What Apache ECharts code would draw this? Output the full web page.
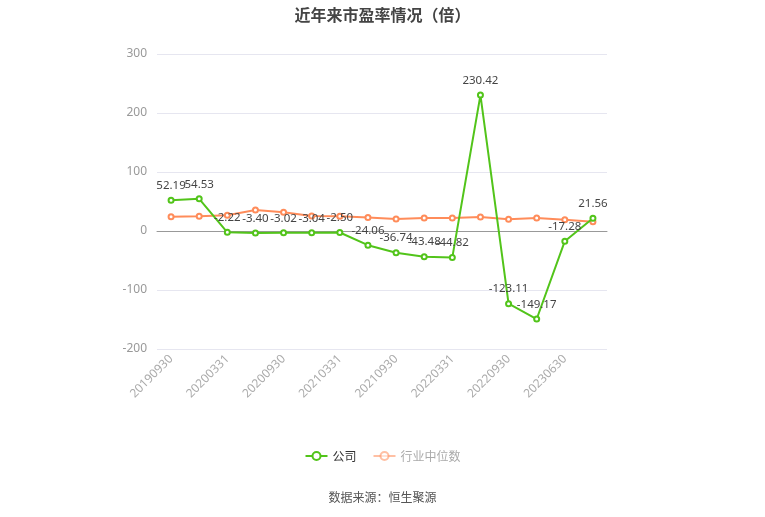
<!DOCTYPE html>
<html><head><meta charset="utf-8">
<script src="https://cdn.jsdelivr.net/npm/echarts@6/dist/echarts.min.js"></script>
<style>html,body{margin:0;padding:0;background:#fff}#c{width:765px;height:517px}</style>
</head><body><div id="c"></div>
<script>
const categories = ['20190930','20191231','20200331','20200630','20200930','20201231','20210331','20210630','20210930','20211231','20220331','20220630','20220930','20221231','20230630','20230930'];
const companyPE = [52.19,54.53,-2.22,-3.40,-3.02,-3.04,-2.50,-24.06,-36.74,-43.48,-44.82,230.42,-123.11,-149.17,-17.28,21.56];
const industryPE = [24.2,24.8,26.6,35.6,31.6,25.4,25.0,23.0,20.3,22.0,22.0,23.7,19.8,22.0,19.0,15.8];
const yTicks = {min:-200,max:300,interval:100};

const chart = echarts.init(document.getElementById('c'));
chart.setOption({
  animation:false,
  title:{text:'近年来市盈率情况（倍）',left:'center',top:2,textStyle:{fontSize:16,fontWeight:'bold',color:'#444',fontFamily:'Noto Sans CJK SC'}},
  grid:{left:157,right:158,top:54,bottom:168},
  legend:{bottom:50,left:'center',itemWidth:22,itemHeight:10,itemGap:16,textStyle:{fontSize:12,color:'#333',fontFamily:'Noto Sans CJK SC'},
    data:[{name:'公司'},{name:'行业中位数',textStyle:{color:'#aaa'},itemStyle:{opacity:0.55},lineStyle:{opacity:0.55}}]},
  graphic:[{type:'text',left:'center',top:491,style:{text:'数据来源：恒生聚源',fontSize:12,fill:'#555',fontFamily:'Noto Sans CJK SC'}}],
  xAxis:{type:'category',data:categories,boundaryGap:true,
    axisLine:{lineStyle:{color:'#999'}},
    axisTick:{alignWithLabel:true,interval:1,lineStyle:{color:'#999'}},
    axisLabel:{rotate:45,interval:1,color:'#aaa',fontSize:12,fontFamily:'Noto Sans'}},
  yAxis:{type:'value',min:yTicks.min,max:yTicks.max,interval:yTicks.interval,
    axisLine:{show:false},axisTick:{show:false},
    axisLabel:{color:'#999',fontSize:12,margin:10,fontFamily:'Noto Sans'},
    splitLine:{lineStyle:{color:'#e6e6f0'}}},
  series:[
    {name:'公司',type:'line',data:companyPE,symbol:'emptyCircle',symbolSize:5,
      itemStyle:{color:'#52c41a'},lineStyle:{width:2,color:'#52c41a'},
      label:{show:true,position:'top',color:'#444',fontSize:11.5,fontFamily:'Noto Sans',formatter:p=>p.value.toFixed(2)},z:3},
    {name:'行业中位数',type:'line',data:industryPE,symbol:'emptyCircle',symbolSize:5,
      itemStyle:{color:'#ff8c5a'},lineStyle:{width:2,color:'#ff8c5a'},z:2}
  ]
});
</script></body></html>
